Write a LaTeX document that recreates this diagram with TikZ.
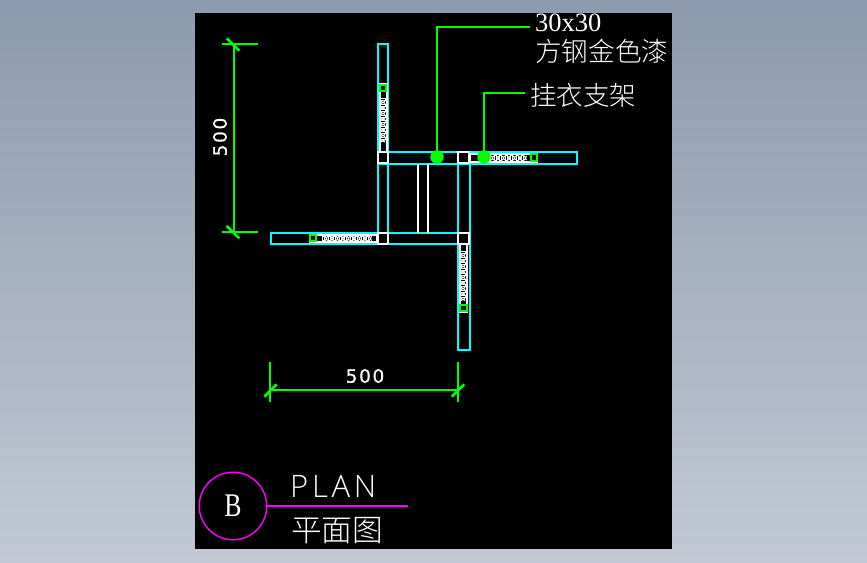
\documentclass[tikz,border=0pt]{standalone}
\usepackage{fontspec}
\setmainfont{Liberation Serif}
\newfontfamily\cjk{Noto Sans CJK SC Light}
\newfontfamily\dimf[LetterSpace=9,FakeBold=0.5]{DejaVu Sans}
\newfontfamily\planf[LetterSpace=12]{Open Sans Light}
\definecolor{cadcyan}{RGB}{0,255,255}
\definecolor{cadgreen}{RGB}{0,255,0}
\definecolor{cadmag}{RGB}{255,0,255}
\tikzset{
  wall/.style={draw=cadcyan,line width=1.4pt},
  whitebox/.style={draw=white,line width=1.4pt},
  greenline/.style={draw=cadgreen,line width=1.4pt},
  ticklin/.style={draw=cadgreen,line width=2.6pt},
  hookbox/.style={draw=cadgreen,line width=1.4pt},
  lbl/.style={text=white,inner sep=0pt,anchor=base west},
  dot/.style={circle,fill=cadgreen,minimum size=13.5pt,inner sep=0pt},
  chain/.pic={
    \draw[white,line width=1pt] (-2.2,-2.5) rectangle (2.2,-.5);
    \draw[white,line width=1pt] (-2.2,.3) -- (2.2,2.6) (-2.2,2.6) -- (2.2,.3);
  }
}
\begin{document}
\begin{tikzpicture}[x=1pt,y=-1pt]
\useasboundingbox (0,0) rectangle (867,562);
\shade[top color={rgb,255:red,140;green,154;blue,175},bottom color={rgb,255:red,194;green,201;blue,213}] (0,0) rectangle (867,562);
\fill[black] (195,13) rectangle (672,549);
% cyan bars
\draw[wall] (378,44) rectangle (388,244);
\draw[wall] (378,152) rectangle (577,164);
\draw[wall] (458,152) rectangle (470,350);
\draw[wall] (271,233) rectangle (470,244);
% posts
\draw[whitebox] (378,152) rectangle (388,163);
\draw[whitebox] (458,152) rectangle (469,163);
\draw[whitebox] (378,233) rectangle (388,244);
\draw[whitebox] (458,233) rectangle (469,244);
\draw[white,line width=1.4pt] (418,164) -- (418,233) (428,164) -- (428,233);
% hangers
\draw[whitebox] (380,84) rectangle (387,152);
\draw[whitebox] (470,154) rectangle (537,162);
\draw[whitebox] (310,235) rectangle (377,242);
\draw[whitebox] (460,244) rectangle (467,312);
\draw[white,line width=1.4pt] (316,235) -- (316,242);
\foreach \p in {101,106.5,...,143} {\pic at (383,\p) {chain};}
\foreach \p in {254,259.5,...,298} {\pic at (463,\p) {chain};}
\foreach \p in {491,496.5,...,524} {\pic[rotate=90] at (\p,158) {chain};}
\foreach \p in {325,330.5,...,371} {\pic[rotate=90] at (\p,238.5) {chain};}
\draw[hookbox] (380,85) rectangle (386,91);
\draw[hookbox] (531,154) rectangle (537,161);
\draw[hookbox] (310,235) rectangle (316,241);
\draw[hookbox] (460,305) rectangle (467,311);
% leaders
\node[dot] (d1) at (437,157) {};
\node[dot] (d2) at (484,157) {};
\coordinate (e1) at (530,27);
\coordinate (e2) at (525,93);
\draw[greenline] (d1.center) |- (e1);
\draw[greenline] (d2.center) |- (e2);
% dimensions
\coordinate (a1) at (234,44);
\coordinate (a2) at (234,232);
\draw[greenline] (a1) -- (a2);
\draw[greenline] (222,44) -- (258,44) (222,232) -- (258,232);
\draw[ticklin] (226.7,38.3) -- (239.3,50.7);
\draw[ticklin] (226.7,226) -- (239.3,238.3);
\node[text=white,font=\dimf\fontsize{18.5}{19}\selectfont,rotate=90,inner sep=0pt] (t1) at (220,137) {500};
\coordinate (b1) at (270,390);
\coordinate (b2) at (458,390);
\draw[greenline] (b1) -- (b2);
\draw[greenline] (270,362) -- (270,402) (458,362) -- (458,402);
\draw[ticklin] (264.3,396.7) -- (276.7,384.3);
\draw[ticklin] (451.7,396.7) -- (464.3,384.3);
\node[text=white,font=\dimf\fontsize{18.5}{19}\selectfont,inner sep=0pt] (t2) at (365,376) {500};
% labels
\node[lbl,font=\fontsize{26.5}{26.5}\selectfont] (l1) at (535,31) {30x30};
\node[lbl,font=\cjk\fontsize{26.6}{26.6}\selectfont] (l2) at (535,61) {方钢金色漆};
\node[lbl,font=\cjk\fontsize{26.5}{26.5}\selectfont] (l3) at (530,105) {挂衣支架};
% title
\node[draw=cadmag,line width=1.4pt,circle,minimum size=67.5pt,inner sep=0pt] (c) at (233,506) {};
\node[text=white,inner sep=0pt,xscale=.78,font=\fontsize{33}{33}\selectfont] (bb) at (233,505.5) {B};
\coordinate (m) at (407.5,506);
\draw[draw=cadmag,line width=1.4pt] (c.east) -- (m);
\node[lbl,font=\planf\fontsize{31}{31}\selectfont] (pl) at (290,497.5) {PLAN};
\node[lbl,font=\cjk\fontsize{30.7}{30.7}\selectfont] (pm) at (291,541) {平面图};
\end{tikzpicture}
\end{document}
